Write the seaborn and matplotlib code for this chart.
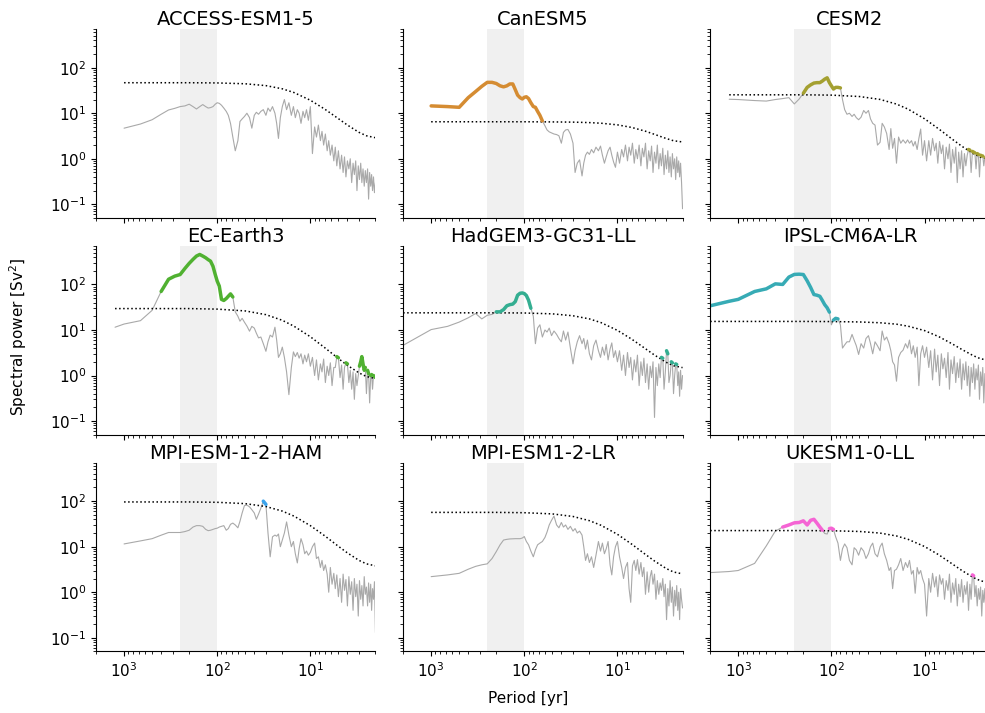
import matplotlib
matplotlib.use("Agg")
import matplotlib.pyplot as plt
import numpy as np
import pandas as pd
import seaborn as sns

MODELS = ["ACCESS-ESM1-5", "CanESM5", "CESM2", "EC-Earth3", "HadGEM3-GC31-LL",
          "IPSL-CM6A-LR", "MPI-ESM-1-2-HAM", "MPI-ESM1-2-LR", "UKESM1-0-LL"]

# period grid of the spectra [yr]
PERIODS = [2000, 1250, 1000, 667, 500, 400, 333, 286, 250, 222, 200, 182, 167, 154, 143, 133, 125, 118, 111, 105, 100,
           95, 90, 85, 80, 76, 72, 68, 64, 60, 57, 54, 51, 48, 45, 42.5, 40, 38, 36, 34, 32,
           30, 28.5, 27, 25.5, 24, 23, 22, 21, 20, 19, 18, 17, 16, 15.2, 14.5, 13.8, 13.2, 12.6, 12, 11.5,
           11, 10.5, 10,
           9.5, 9.0, 8.6, 8.2, 7.8, 7.5, 7.2, 6.9, 6.6, 6.35, 6.1, 5.85, 5.6, 5.4, 5.2, 5.0, 4.8, 4.62, 4.45, 4.3,
           4.15, 4.0, 3.86, 3.73, 3.6, 3.48, 3.37, 3.26, 3.16, 3.06, 2.97, 2.88, 2.8, 2.72, 2.64, 2.57, 2.5, 2.43,
           2.37, 2.31, 2.25, 2.2, 2.15, 2.1, 2.05, 2.0]

# periods of the red-noise (dotted) reference
RED_PERIODS = [200, 100, 50, 30, 20, 15, 10, 7, 5, 4, 3, 2.5, 2]

BAND = (100, 250)

ACCESS_POWER = [None, None, 4.7, 5.8, 7.2, 9.5, 11.8, 12.8, 14, 14.5, 15.8, 14, 12.4, 14, 15.5, 14, 13, 13.3, 14, 15.8, 17,
                16.5, 15, 13, 11, 9, 6, 3, 1.5, 2.5, 6.6, 7.5, 8.5, 10, 8, 4.7, 9, 10.5, 9.5, 11, 12,
                9, 13, 11, 14, 10, 6, 2.8, 8, 14, 20, 12, 17, 9, 14, 8, 12, 10, 6, 11, 8,
                12, 7, 14,
                1.3, 5, 3, 5.5, 2.5, 4, 2, 3.5, 1.5, 2.5, 1.2, 2, 0.9, 1.8, 0.7, 1.5, 0.6, 1.2, 0.5, 1.1,
                0.4, 0.9, 0.6, 1.0, 0.3, 0.8, 0.45, 0.9, 0.2, 0.7, 0.35, 0.8, 0.3, 0.6, 0.25, 0.55, 0.3, 0.6,
                0.13, 0.5, 0.25, 0.45, 0.2, 0.4, 0.18, 0.3]
ACCESS_RED = [46.8, 46.3, 44.4, 40.4, 34.4, 28.5, 19.3, 12.3, 7.6, 5.5, 3.8, 3.2, 2.9]

CANESM_POWER = [None, None, 14.5, 14, 13.5, 22, 30, 39, 47.7, 47.7, 45, 40, 38, 40, 44, 44, 33, 25, 22, 20.6, 22.4,
                23, 21, 17, 14, 13.5, 11, 9, 6.8, 5.3, 4.3, 3.9, 3.7, 3.5, 3.4, 3.2, 2.2, 3.8, 4.3, 4.4, 3.5,
                2.2, 0.5, 0.8, 0.95, 0.42, 0.8, 1.2, 1.4, 1.25, 1.6, 1.35, 1.8, 1.5, 1.9, 1.2, 0.8, 1.1, 1.5, 1.8, 1.2,
                0.85, 0.65, 1.4,
                0.8, 1.6, 1.1, 2.0, 0.9, 1.8, 1.2, 2.2, 0.8, 1.6, 1.0, 2.0, 0.7, 1.7, 1.1, 2.2, 0.6, 1.5, 0.9, 1.9,
                0.5, 1.4, 0.8, 2.0, 0.6, 1.3, 0.7, 1.7, 0.45, 1.2, 0.6, 1.5, 0.5, 1.1, 0.4, 1.3, 0.6, 1.0,
                0.35, 1.1, 0.5, 0.9, 0.4, 0.8, 0.3, 0.08]
CANESM_RED = [6.5, 6.5, 6.45, 6.38, 6.23, 6.04, 5.56, 4.87, 4.03, 3.44, 2.79, 2.49, 2.34]

CESM_POWER = [None, 20.3, 20, 19, 18.5, 20, 21, 22, 16, 20.5, 27.5, 37, 42, 46, 47, 47, 51, 56, 60, 47, 40,
              34, 37, 37, 36, 20, 12, 9.5, 10, 8.5, 9.5, 8, 7.2, 8.2, 11.5, 10, 11.5, 7.5, 6, 5.5, 2,
              2.3, 6, 5, 3.6, 1.6, 4.6, 1.7, 2.8, 0.8, 3, 2.2, 2.6, 2.2, 2.6, 2.2, 2.5, 1.9, 2.4, 1.6, 2.8,
              4.5, 1.2, 2.5,
              0.9, 2.5, 1.2, 2.8, 1.5, 2.2, 0.8, 2.4, 1.3, 2.0, 0.6, 1.8, 1.0, 2.1, 0.5, 1.6, 0.8, 1.8, 0.3, 1.4,
              0.6, 1.5, 0.4, 1.3, 0.7, 1.2, 1.6, 1.55, 0.5, 1.45, 1.4, 1.35, 0.6, 1.3, 1.25, 0.4, 1.2, 1.15,
              1.15, 0.7, 1.1, 1.1, 0.5, 0.95, 0.3, 0.6]
CESM_RED = [25.4, 25.0, 23.3, 20.1, 15.9, 12.3, 7.56, 4.49, 2.66, 1.90, 1.30, 1.08, 0.99]

EC_POWER = [None, 11.5, 13.5, 16, 27, 70, 130, 152, 165, 225, 290, 355, 420, 455, 420, 385, 350, 325, 250, 165, 118,
            92, 47, 44.5, 49, 55, 62, 53, 25, 20, 15.6, 18, 14.8, 12.2, 9.4, 12, 11, 8.5, 6.7, 7, 5,
            3.4, 5.5, 7.7, 7, 11.5, 6, 2.5, 3, 4.2, 2.5, 1.2, 0.38, 1.5, 3.3, 2.6, 3.2, 2.4, 3, 1.8, 2.8,
            2, 3, 1.6,
            2.5, 1.0, 2.2, 0.8, 1.8, 1.2, 2.3, 0.7, 1.6, 1.0, 1.9, 0.6, 1.5, 1.5, 2.6, 2.45, 0.9, 1.7, 0.5, 1.5,
            1.9, 1.8, 0.7, 1.3, 0.5, 1.2, 0.3, 1.1, 0.6, 1.0, 1.6, 2.0, 2.6, 1.8, 1.3, 1.5, 0.4, 1.3,
            1.1, 0.25, 1.0, 1.05, 0.5, 1.0, 0.95, 0.9]
EC_RED = [29.5, 28.7, 26.2, 21.7, 16.3, 12.1, 7.1, 4.07, 2.36, 1.67, 1.14, 0.95, 0.86]

HADGEM_POWER = [4.6, 7.9, 10.2, 12, 14.9, 18.5, 23, 17.5, 21, 22, 25, 25, 28, 34, 36, 37, 42, 58, 64, 65, 63,
                57, 45, 30, 20, 5, 11, 13, 7, 10, 9, 11, 7.5, 9.5, 8, 6.5, 5.5, 9.5, 6, 9, 4,
                1.8, 3.5, 5.5, 7.5, 5, 6.5, 3.8, 6, 3, 2.2, 4.5, 6, 3.5, 2.5, 4.2, 2.8, 4.8, 2.2, 3.8, 5.2,
                2.5, 3.5, 2,
                3.5, 1.3, 2.8, 1.0, 3.2, 1.5, 2.5, 0.8, 2.2, 1.2, 2.8, 0.6, 2.0, 1.0, 2.4, 0.7, 1.8, 0.5, 1.6, 0.9,
                2.0, 0.12, 1.5, 0.6, 1.8, 0.9, 2.5, 2.4, 0.5, 1.2, 3.5, 3.0, 0.7, 1.0, 2.0, 1.9, 0.4, 1.0,
                1.8, 1.75, 0.6, 1.2, 0.35, 1.3, 0.5, 1.0]
HADGEM_RED = [23.8, 23.6, 22.6, 20.5, 17.5, 14.5, 9.8, 6.25, 3.87, 2.81, 1.95, 1.64, 1.49]

IPSL_POWER = [34, 42.7, 47, 70, 80, 103, 100, 145, 166, 168, 165, 120, 86, 60, 58, 55, 44.5, 36, 30.7, 24.6, 13,
              16.5, 18, 17.5, 13, 4, 4.7, 5.5, 5.5, 8, 6, 4.5, 2.9, 5, 4, 6.5, 7.5, 5, 3, 5.5, 4.5,
              3.5, 9.5, 6, 7, 5, 3.5, 2, 1.7, 0.75, 2.5, 3.2, 3.6, 5, 4, 6, 3, 4.5, 2.5, 4.2, 0.6,
              3, 4.5, 2.5,
              4.2, 1.5, 3.5, 0.8, 3.8, 1.2, 2.8, 0.6, 3.0, 1.4, 2.4, 0.9, 3.2, 0.5, 2.2, 1.1, 2.6, 0.7, 1.9, 0.9,
              2.3, 0.5, 1.8, 0.8, 2.0, 0.6, 1.6, 0.35, 1.5, 0.7, 1.8, 0.5, 1.4, 0.8, 1.7, 0.3, 1.2, 0.6,
              1.5, 0.25, 1.1, 0.5, 1.3, 0.2, 0.9, 0.5]
IPSL_RED = [15.4, 15.3, 15.0, 14.4, 13.4, 12.1, 9.7, 7.1, 4.9, 3.76, 2.73, 2.33, 2.14]

MPIHAM_POWER = [None, None, 11.5, 13.4, 15, 17.9, 20.5, 20.5, 20.5, 21.5, 23, 27, 29, 29, 28, 24, 22.5, 23, 24, 25, 25.5,
                27, 28, 29, 23, 25, 31, 33, 30, 26, 36, 55, 80, 82, 75, 65, 55, 40, 52, 70, 100,
                85, 20, 6, 16.5, 18, 17, 19, 10, 14, 20, 35, 18, 10, 13, 7, 4.4, 9, 15, 11, 7,
                8, 6.5, 7.5,
                10, 12, 5.5, 6, 3.5, 5, 3, 4, 2.5, 1.0, 3.5, 1.5, 2.6, 1.2, 2.4, 0.8, 2.0, 0.6, 2.5, 1.1,
                1.9, 0.5, 2.2, 0.9, 1.7, 0.4, 2.0, 0.8, 1.5, 0.3, 1.8, 0.7, 1.4, 0.5, 2.2, 0.9, 1.3, 0.5,
                1.6, 0.6, 1.5, 0.4, 1.2, 0.7, 1.7, 0.13]
MPIHAM_RED = [96.1, 94.4, 88.2, 76.3, 60.5, 47.0, 29.0, 17.3, 10.2, 7.3, 5.0, 4.2, 3.8]

MPILR_POWER = [None, None, 2.2, 2.4, 2.6, 3.2, 3.7, 4.0, 4.2, 5.5, 7.8, 11, 14, 14.5, 14.8, 14.9, 15, 15, 15, 15.5, 16.7,
               13, 11, 8, 6, 8.5, 11, 12, 13, 16, 21, 30, 38, 47, 30, 26, 34, 27, 30, 24, 28,
               22, 25, 20, 22, 18, 10, 5, 7, 4.5, 6, 3.5, 6.5, 13, 8, 12, 7, 9, 13, 4, 2.4,
               6, 10, 13,
               6, 3.5, 2.0, 3.5, 4.5, 1.2, 0.6, 3.8, 5, 3, 5.2, 2.5, 4.5, 2.2, 3.5, 0.9, 2.8, 1.0, 2.2, 3.0,
               1.5, 2.5, 0.7, 1.8, 0.9, 1.6, 1.1, 2.0, 0.8, 1.5, 0.25, 1.2, 0.5, 1.8, 0.6, 1.3, 0.3, 1.1,
               0.5, 1.4, 0.4, 1.0, 0.25, 1.2, 0.7, 0.45]
MPILR_RED = [56.7, 55.8, 52.5, 46.1, 37.3, 29.5, 18.7, 11.3, 6.75, 4.85, 3.32, 2.78, 2.53]

UKESM_POWER = [2.7, 2.85, 3.0, 4.3, 10.4, 22, 27, 30, 33.4, 34, 37, 30, 38, 40, 33, 27, 23, 19.5, 19, 25, 25.5,
               24, 16.5, 12, 5, 9, 11.5, 9.5, 5, 4, 9.5, 8.5, 6.5, 9.5, 8, 5.5, 7, 10, 12, 7, 6,
               10, 12, 7, 5, 3, 3.5, 1.2, 3, 3.2, 4, 5.5, 3, 4.5, 3.5, 5, 2.5, 3, 0.95, 3.5, 2.5,
               3, 2, 1.5,
               0.3, 2.0, 1.0, 2.6, 1.3, 2.2, 0.8, 2.4, 1.5, 2.0, 0.7, 1.8, 1.1, 2.5, 0.6, 1.6, 0.9, 2.0, 0.5, 1.5,
               0.8, 1.9, 0.6, 1.4, 0.9, 1.7, 0.4, 1.5, 0.7, 2.4, 2.3, 0.8, 1.4, 0.5, 1.2, 0.7, 1.3, 0.3,
               1.1, 0.6, 1.2, 0.4, 1.0, 0.7, 0.5, 0.8]
UKESM_RED = [22.6, 22.4, 21.6, 19.9, 17.2, 14.5, 10.1, 6.6, 4.14, 3.03, 2.11, 1.78, 1.62]

POWERS = [ACCESS_POWER, CANESM_POWER, CESM_POWER, EC_POWER, HADGEM_POWER,
          IPSL_POWER, MPIHAM_POWER, MPILR_POWER, UKESM_POWER]
REDS = [ACCESS_RED, CANESM_RED, CESM_RED, EC_RED, HADGEM_RED,
        IPSL_RED, MPIHAM_RED, MPILR_RED, UKESM_RED]

sns.set_style("ticks")
plt.rcParams["font.family"] = ["DejaVu Sans"]
for key in ["axes.edgecolor", "xtick.color", "ytick.color", "text.color", "axes.labelcolor"]:
    plt.rcParams[key] = "black"
palette = sns.color_palette("husl", len(MODELS))

fig, axes = plt.subplots(3, 3, figsize=(9.85, 7.13), dpi=100, sharex=True, sharey=True)
fig.subplots_adjust(left=0.0975, right=1.0047, top=0.959, bottom=0.0863,
                    wspace=0.099, hspace=0.148)

for ax, name, power, red, color in zip(axes.flat, MODELS, POWERS, REDS, palette):
    ax.set_xscale("log")
    ax.set_yscale("log")
    df = pd.DataFrame({"period": PERIODS, "power": power}).dropna().reset_index(drop=True)
    start = df["period"].iloc[0]

    ax.axvspan(*BAND, color="#f0f0f0", lw=0, zorder=0)
    sns.lineplot(data=df, x="period", y="power", ax=ax, color="darkgray",
                 lw=0.8, estimator=None, sort=False)

    # red-noise reference, flat back to the record length
    red_df = pd.DataFrame({"period": [start] + RED_PERIODS, "power": [red[0]] + red})
    sns.lineplot(data=red_df, x="period", y="power", ax=ax, color="black",
                 lw=1.1, linestyle=":", estimator=None, sort=False)

    # highlight where the spectrum lies above the red-noise line
    thr = 10 ** np.interp(-np.log10(df["period"]), -np.log10(red_df["period"]),
                          np.log10(red_df["power"]))
    sig = df["power"].to_numpy() > thr
    run = np.cumsum(~sig)
    sig_df = df[sig].assign(run=run[sig])
    if len(sig_df):
        sns.lineplot(data=sig_df, x="period", y="power", units="run", estimator=None,
                     ax=ax, color=color, lw=2.5, sort=False)

    ax.set_title(name, fontsize=14, pad=3)
    ax.set(xlabel="", ylabel="")
    ax.tick_params(labelsize=11)

axes[0, 0].set_xlim(2000, 2)
axes[0, 0].set_ylim(0.05, 700)
sns.despine(fig)

fig.text(0.0188, 0.528, "Spectral power [Sv$^2$]", rotation=90, ha="center", va="center", fontsize=11)
fig.text(0.536, 0.021, "Period [yr]", ha="center", va="center", fontsize=11)

fig.savefig("out.png", dpi=100)
